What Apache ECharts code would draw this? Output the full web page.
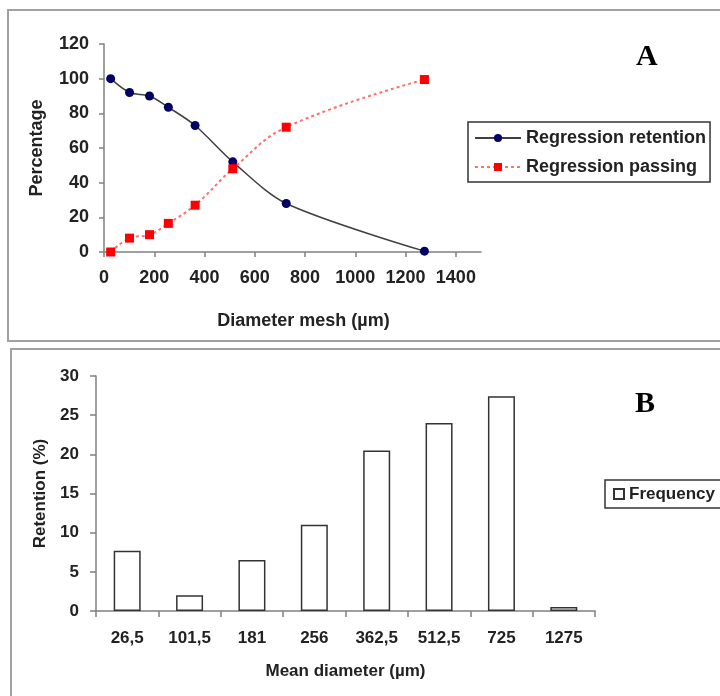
<!DOCTYPE html>
<html>
<head>
<meta charset="utf-8">
<script src="https://cdn.jsdelivr.net/npm/echarts@6/dist/echarts.min.js"></script>
<style>
  html, body { margin: 0; padding: 0; background: #fff; }
  #chart { width: 720px; height: 696px; }
</style>
</head>
<body>
<div id="chart"></div>
<script>
// panel A: mesh diameter vs percentage
const meshDiameter = [26.5, 101.5, 181, 256, 362.5, 512.5, 725, 1275];
const retention = [100, 92, 90, 83.5, 73, 52, 28, 0.5];
const passing = [0, 8, 10, 16.5, 27, 48, 72, 99.5];
const meshTicks = [0, 200, 400, 600, 800, 1000, 1200, 1400];

// panel B: frequency per mean diameter
const meanDiameter = ['26,5', '101,5', '181', '256', '362,5', '512,5', '725', '1275'];
const frequency = [7.7, 2.0, 6.5, 11.0, 20.5, 24.0, 27.4, 0.5];

const font = 'Liberation Sans, Arial, sans-serif';
const axisGray = '#808080';
const txt = '#222';

function pairs(xs, ys) {
  return xs.map((x, i) => [x, ys[i]]);
}

const chart = echarts.init(document.getElementById('chart'));

chart.setOption({
  animation: false,
  textStyle: { fontFamily: font },
  graphic: [
    { type: 'rect', shape: { x: 8, y: 10, width: 740, height: 331 },
      style: { fill: 'none', stroke: '#a0a0a0', lineWidth: 2 }, silent: true },
    { type: 'rect', shape: { x: 11, y: 349, width: 740, height: 370 },
      style: { fill: 'none', stroke: '#a0a0a0', lineWidth: 2 }, silent: true },
    { type: 'text', left: 636, top: 42,
      style: { text: 'A', font: 'bold 30px "Liberation Serif", "Times New Roman", serif', fill: '#000' } },
    { type: 'text', left: 635, top: 389,
      style: { text: 'B', font: 'bold 30px "Liberation Serif", "Times New Roman", serif', fill: '#000' } }
  ],
  legend: [
    {
      data: ['Regression retention', 'Regression passing'],
      orient: 'vertical',
      left: 468, top: 122,
      padding: [6, 4, 5, 6],
      itemGap: 9,
      itemWidth: 46, itemHeight: 10,
      itemTextGap: 6,
      borderColor: '#333', borderWidth: 1.5,
      textStyle: { fontFamily: font, fontSize: 18, fontWeight: 'bold', color: txt, lineHeight: 20 }
    },
    {
      data: [{ name: 'Frequency', icon: 'rect' }],
      orient: 'vertical',
      left: 605, top: 480,
      padding: [4, 20, 4, 8],
      itemWidth: 10, itemHeight: 10,
      itemTextGap: 5,
      borderColor: '#333', borderWidth: 1.5,
      textStyle: { fontFamily: font, fontSize: 17, fontWeight: 'bold', color: txt, lineHeight: 20 }
    }
  ],
  grid: [
    { left: 104, top: 44, width: 377, height: 208 },
    { left: 96, top: 376, width: 499, height: 235 }
  ],
  xAxis: [
    {
      type: 'value', gridIndex: 0, min: 0, max: 1500,
      name: 'Diameter mesh (µm)', nameLocation: 'middle', nameGap: 60,
      nameTextStyle: { fontSize: 18, fontWeight: 'bold', color: txt, padding: [0, 0, 0, 22] },
      axisLine: { lineStyle: { color: axisGray, width: 1.5 } },
      axisTick: { show: true, length: 5, inside: false, customValues: meshTicks,
        lineStyle: { color: axisGray, width: 1.5 } },
      axisLabel: { customValues: meshTicks, margin: 17, fontSize: 18, fontWeight: 'bold', color: txt,
        formatter: v => String(v) },
      splitLine: { show: false }
    },
    {
      type: 'category', gridIndex: 1, data: meanDiameter, boundaryGap: true,
      name: 'Mean diameter (µm)', nameLocation: 'middle', nameGap: 52,
      nameTextStyle: { fontSize: 17, fontWeight: 'bold', color: txt },
      axisLine: { lineStyle: { color: axisGray, width: 1.5 } },
      axisTick: { show: true, length: 6, alignWithLabel: false,
        lineStyle: { color: axisGray, width: 1.5 } },
      axisLabel: { interval: 0, margin: 19, fontSize: 17, fontWeight: 'bold', color: txt },
      splitLine: { show: false }
    }
  ],
  yAxis: [
    {
      type: 'value', gridIndex: 0, min: 0, max: 120, interval: 20,
      name: 'Percentage', nameLocation: 'middle', nameGap: 58,
      nameTextStyle: { fontSize: 18, fontWeight: 'bold', color: txt },
      axisLine: { show: true, lineStyle: { color: axisGray, width: 1.5 } },
      axisTick: { show: true, length: 5, lineStyle: { color: axisGray, width: 1.5 } },
      axisLabel: { margin: 15, fontSize: 18, fontWeight: 'bold', color: txt },
      splitLine: { show: false }
    },
    {
      type: 'value', gridIndex: 1, min: 0, max: 30, interval: 5,
      name: 'Retention (%)', nameLocation: 'middle', nameGap: 46,
      nameTextStyle: { fontSize: 17, fontWeight: 'bold', color: txt },
      axisLine: { show: true, lineStyle: { color: axisGray, width: 1.5 } },
      axisTick: { show: true, length: 6, lineStyle: { color: axisGray, width: 1.5 } },
      axisLabel: { margin: 17, fontSize: 17, fontWeight: 'bold', color: txt },
      splitLine: { show: false }
    }
  ],
  series: [
    {
      name: 'Regression retention', type: 'line',
      xAxisIndex: 0, yAxisIndex: 0,
      data: pairs(meshDiameter, retention),
      smooth: 0.3,
      symbol: 'circle', symbolSize: 9,
      lineStyle: { color: '#404040', width: 1.5 },
      itemStyle: { color: '#000066' }
    },
    {
      name: 'Regression passing', type: 'line',
      xAxisIndex: 0, yAxisIndex: 0,
      data: pairs(meshDiameter, passing),
      smooth: 0.4,
      symbol: 'rect', symbolSize: 9,
      lineStyle: { color: '#ff6f6f', width: 2, type: [3, 3] },
      itemStyle: { color: '#ff0000' }
    },
    {
      name: 'Frequency', type: 'bar',
      xAxisIndex: 1, yAxisIndex: 1,
      data: frequency,
      barWidth: 27,
      itemStyle: { color: '#fff', borderColor: '#333', borderWidth: 1.5 }
    }
  ]
});
</script>
</body>
</html>
